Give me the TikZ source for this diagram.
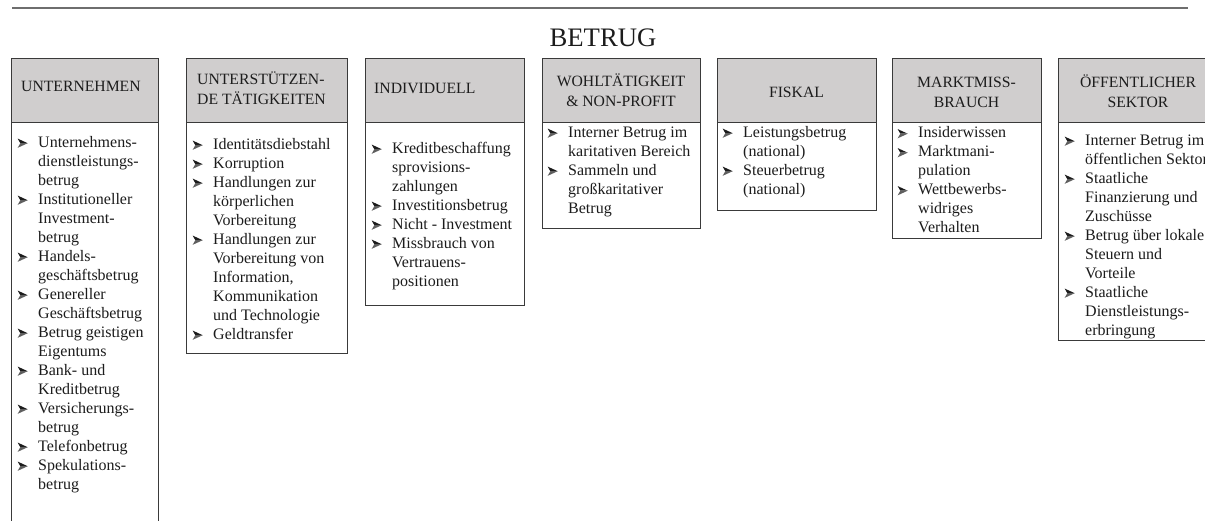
\documentclass[tikz,border=0pt]{standalone}
\usepackage{fontspec}
\setmainfont{Liberation Serif}
\definecolor{hdrgray}{RGB}{208,206,206}
\definecolor{edge}{RGB}{58,58,58}
\definecolor{ink}{RGB}{28,28,28}
\definecolor{inklight}{RGB}{95,95,95}
\definecolor{rule}{RGB}{110,110,110}
% arrowhead bullet (dark upper facet, lighter lower facet) hung left of each item
\newcommand{\arrowbullet}{\tikz[x=1pt,y=1pt,baseline=0pt,line join=miter]{%
  \fill[ink] (0,8.6) -- (10,4) -- (2.6,4) -- cycle;
  \fill[inklight] (2.6,4) -- (10,4) -- (0,-0.6) -- cycle;}}
\newcommand{\itm}{\llap{\arrowbullet\hspace{10.5pt}}}
\tikzset{
  hdr/.style={draw=edge, line width=1.3pt, fill=hdrgray, anchor=north west, inner sep=0pt, minimum height=64pt},
  bodybox/.style={draw=edge, line width=1.3pt, fill=white, anchor=north west, inner sep=0pt},
  htext/.style={text=ink, font=\fontsize{15.7}{20}\selectfont, inner sep=0pt},
  list/.style={text=ink, font=\fontsize{16}{19}\selectfont, align=left, inner sep=0pt, anchor=north west}
}
\begin{document}
\begin{tikzpicture}[x=1pt, y=-1pt]
\useasboundingbox (0,0) rectangle (1205,520);
\clip (0,0) rectangle (1205,520);

% rule and title
\coordinate (rl) at (12,8);
\coordinate (rr) at (1188,8);
\draw[rule, line width=1.2pt] (rl) -- (rr);
\node[text=ink, font=\fontsize{26.7}{30}\selectfont, inner sep=0pt, anchor=base] (title) at (603,46) {BETRUG};

% column bodies
\node[bodybox, minimum width=147pt, minimum height=420pt] (b1) at (11,122) {};
\node[bodybox, minimum width=161pt, minimum height=231pt] (b2) at (186,122) {};
\node[bodybox, minimum width=159pt, minimum height=183pt] (b3) at (365,122) {};
\node[bodybox, minimum width=158pt, minimum height=106pt] (b4) at (542,122) {};
\node[bodybox, minimum width=159pt, minimum height=88pt] (b5) at (717,122) {};
\node[bodybox, minimum width=149pt, minimum height=116pt] (b6) at (892,122) {};
\node[bodybox, minimum width=160pt, minimum height=218pt] (b7) at (1058,122) {};

% column headers
\node[hdr, minimum width=147pt] (h1) at (11,58) {};
\node[hdr, minimum width=161pt] (h2) at (186,58) {};
\node[hdr, minimum width=159pt] (h3) at (365,58) {};
\node[hdr, minimum width=158pt] (h4) at (542,58) {};
\node[hdr, minimum width=159pt] (h5) at (717,58) {};
\node[hdr, minimum width=149pt] (h6) at (892,58) {};
\node[hdr, minimum width=160pt] (h7) at (1058,58) {};

% header texts
\node[htext, anchor=base west] (t1) at (21,91) {UNTERNEHMEN};
\node[htext, align=left, anchor=north west] (t2) at (197,70) {\strut UNTERSTÜTZEN-\\DE TÄTIGKEITEN};
\node[htext, anchor=base west] (t3) at (374,93) {INDIVIDUELL};
\node[htext, align=center, anchor=north] (t4) at (621,72) {\strut WOHLTÄTIGKEIT\\\& NON-PROFIT};
\node[htext, anchor=base] (t5) at (796.5,97) {FISKAL};
\node[htext, align=center, anchor=north] (t6) at (966.5,73) {\strut MARKTMISS-\\BRAUCH};
\node[htext, align=center, anchor=north] (t7) at (1138,73) {\strut ÖFFENTLICHER\\SEKTOR};

% item lists
\node[list] (l1) at (38,133.7) {\strut\itm Unternehmens-\\dienstleistungs-\\betrug\\\itm Institutioneller\\Investment-\\betrug\\\itm Handels-\\geschäftsbetrug\\\itm Genereller\\Geschäftsbetrug\\\itm Betrug geistigen\\Eigentums\\\itm Bank- und\\Kreditbetrug\\\itm Versicherungs-\\betrug\\\itm Telefonbetrug\\\itm Spekulations-\\betrug};
\node[list] (l2) at (213,135.7) {\strut\itm Identitätsdiebstahl\\\itm Korruption\\\itm Handlungen zur\\körperlichen\\Vorbereitung\\\itm Handlungen zur\\Vorbereitung von\\Information,\\Kommunikation\\und Technologie\\\itm Geldtransfer};
\node[list] (l3) at (392,139.7) {\strut\itm Kreditbeschaffung\\sprovisions-\\zahlungen\\\itm Investitionsbetrug\\\itm Nicht - Investment\\\itm Missbrauch von\\Vertrauens-\\positionen};
\node[list] (l4) at (568,123.7) {\strut\itm Interner Betrug im\\karitativen Bereich\\\itm Sammeln und\\großkaritativer\\Betrug};
\node[list] (l5) at (743,123.7) {\strut\itm Leistungsbetrug\\(national)\\\itm Steuerbetrug\\(national)};
\node[list] (l6) at (918,124.2) {\strut\itm Insiderwissen\\\itm Marktmani-\\pulation\\\itm Wettbewerbs-\\widriges\\Verhalten};
\node[list] (l7) at (1085,131.7) {\strut\itm Interner Betrug im\\öffentlichen Sektor\\\itm Staatliche\\Finanzierung und\\Zuschüsse\\\itm Betrug über lokale\\Steuern und\\Vorteile\\\itm Staatliche\\Dienstleistungs-\\erbringung};
\end{tikzpicture}
\end{document}
